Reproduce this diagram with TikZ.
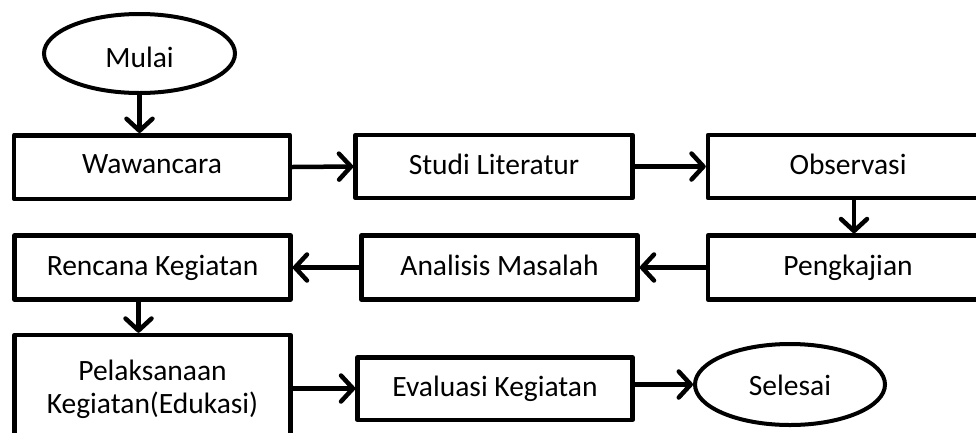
\documentclass[tikz,border=0pt]{standalone}
\usepackage{fontspec}
\setmainfont{Carlito}
\usetikzlibrary{arrows.meta,shapes.geometric,calc}
\begin{document}
\begin{tikzpicture}[x=1pt,y=-1pt,
  every node/.style={font=\fontsize{29.5}{37}\selectfont, inner sep=0pt},
  onel/.style={text height=19pt, text depth=3pt},
  procbox/.style={draw=black, line width=4.5pt, fill=white, rectangle, line join=round},
  termbox/.style={draw=black, line width=4pt, fill=white, ellipse},
  arr/.style={line width=4.5pt, line cap=round, -{Straight Barb[length=12pt,width=26pt,line cap=round,line join=round]}}
]
\useasboundingbox (0,0) rectangle (976,432);
\node[termbox, onel, minimum width=191pt, minimum height=79pt] (mulai) at (139.5,53.5) {\raisebox{-6pt}{Mulai}};
\node[procbox, onel, minimum width=276pt, minimum height=63.5pt] (waw) at (152,167) {\raisebox{2pt}{Wawancara}};
\node[procbox, onel, minimum width=277pt, minimum height=63pt] (studi) at (494,166.5) {Studi Literatur};
\node[procbox, onel, minimum width=280pt, minimum height=63pt] (obs) at (848,166.5) {Observasi};
\node[procbox, onel, minimum width=280pt, minimum height=64pt] (peng) at (848,267.5) {Pengkajian};
\node[procbox, onel, minimum width=276pt, minimum height=64pt] (anal) at (499.5,267.5) {Analisis Masalah};
\node[procbox, onel, minimum width=276pt, minimum height=64pt] (renc) at (152.5,267.5) {Rencana Kegiatan};
\node[procbox, minimum width=276pt, minimum height=108pt, align=center] (pel) at (152.5,389) {Pelaksanaan\\[-4pt]Kegiatan(Edukasi)};
\node[procbox, onel, minimum width=275pt, minimum height=62.5pt] (eval) at (495,388.5) {Evaluasi Kegiatan};
\node[termbox, onel, minimum width=190pt, minimum height=81pt] (sel) at (790,384.5) {\raisebox{-3pt}{Selesai}};

\draw[arr] (mulai.south) -- (mulai.south |- waw.north);
\draw[arr] (waw.east) -- (studi.west);
\draw[arr] (studi.east) -- (obs.west);
\draw[arr] ([xshift=6pt]obs.south) -- ([xshift=6pt]peng.north);
\draw[arr] (peng.west) -- (anal.east);
\draw[arr] (anal.west) -- (renc.east);
\draw[arr] ([xshift=-14pt]renc.south) -- ([xshift=-14pt]renc.south |- pel.north);
\draw[arr] (pel.east |- eval.west) -- (eval.west);
\draw[arr] (eval.east |- sel.west) -- (sel.west);
\end{tikzpicture}
\end{document}
